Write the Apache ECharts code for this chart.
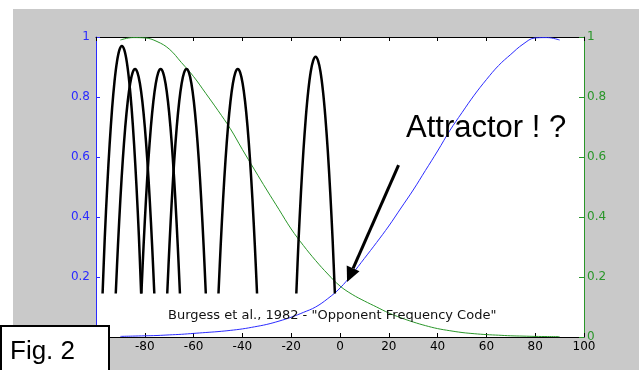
<!DOCTYPE html>
<html>
<head>
<meta charset="utf-8">
<script src="https://cdn.jsdelivr.net/npm/echarts@6/dist/echarts.min.js"></script>
<style>
  html, body { margin: 0; padding: 0; background: #fff; }
  #chart { width: 639px; height: 370px; }
</style>
</head>
<body>
<div id="chart"></div>
<script>
// sampled positions for the two wide curves
const xSamples = [-90, -85, -80, -75, -70, -65, -60, -55, -50, -45, -40, -35, -30, -25, -20, -15, -10, -5, 0,
  5, 10, 15, 20, 25, 30, 35, 40, 45, 50, 55, 60, 65, 70, 75, 80, 85, 90];
const blueValues = [0.002, 0.003, 0.004, 0.005, 0.007, 0.009, 0.012, 0.015, 0.018, 0.022, 0.027, 0.034, 0.042, 0.053, 0.066, 0.082, 0.1, 0.128, 0.163,
  0.21, 0.262, 0.315, 0.37, 0.43, 0.49, 0.555, 0.62, 0.688, 0.748, 0.806, 0.858, 0.905, 0.942, 0.976, 0.997, 0.998, 0.99];
const greenValues = [0.99, 0.998, 0.997, 0.985, 0.96, 0.915, 0.868, 0.812, 0.755, 0.695, 0.625, 0.557, 0.49, 0.425, 0.36, 0.305, 0.255, 0.21, 0.17,
  0.142, 0.12, 0.1, 0.08, 0.064, 0.05, 0.038, 0.028, 0.021, 0.015, 0.011, 0.008, 0.006, 0.004, 0.003, 0.002, 0.0015, 0.001];

// narrow tuning curves: centre + offsets
const peakCenters = [-89.4, -84, -73.5, -62.9, -41.9, -10];
const peakOffsets = [-7.9, -7, -6, -5, -4, -3, -2, -1, 0, 1, 2, 3, 4, 5, 6, 7, 7.9];
const peakTall = [0.145, 0.332, 0.501, 0.644, 0.762, 0.853, 0.918, 0.957, 0.97, 0.957, 0.918, 0.853, 0.762, 0.644, 0.501, 0.332, 0.145];
const peakMid = [0.145, 0.305, 0.461, 0.593, 0.701, 0.785, 0.845, 0.881, 0.893, 0.881, 0.845, 0.785, 0.701, 0.593, 0.461, 0.305, 0.145];
const peakLast = [0.145, 0.32, 0.482, 0.62, 0.733, 0.821, 0.884, 0.921, 0.934, 0.921, 0.884, 0.821, 0.733, 0.62, 0.482, 0.32, 0.145];
const peakValues = [peakTall, peakMid, peakMid, peakMid, peakMid, peakLast];

// arrow, in data units
const arrowTail = [24, 0.573];
const arrowTip = [2.9, 0.183];

const BLUE = '#2b2bff';
const GREEN = '#2a962a';
const tickFont = 'DejaVu Sans';

const chart = echarts.init(document.getElementById('chart'));

const peakSeries = peakValues.map((vals, i) => ({
  type: 'line',
  data: peakOffsets.map((d, j) => [peakCenters[i] + d, vals[j]]),
  showSymbol: false,
  smooth: 0.3,
  lineStyle: { color: '#000', width: 2.5 },
  z: 3
}));

chart.setOption({
  backgroundColor: '#c9c9c9',
  animation: false,
  grid: { left: 96, top: 37, right: 55, bottom: 33, show: true, backgroundColor: '#fff', borderWidth: 0 },
  xAxis: [
    {
      type: 'value', min: -100, max: 100, interval: 20, position: 'bottom',
      axisLine: { onZero: false, lineStyle: { color: '#000', width: 1 } },
      axisTick: { inside: true, length: 4, lineStyle: { color: '#000' } },
      axisLabel: {
        color: '#000', fontFamily: tickFont, fontSize: 12, margin: 4,
        formatter: v => (v === -100 ? '' : String(v))
      },
      splitLine: { show: false }
    },
    {
      type: 'value', min: -100, max: 100, interval: 20, position: 'top',
      axisLine: { onZero: false, lineStyle: { color: '#000', width: 1 } },
      axisTick: { inside: true, length: 4, lineStyle: { color: '#000' } },
      axisLabel: { show: false },
      splitLine: { show: false }
    }
  ],
  yAxis: [
    {
      type: 'value', min: 0, max: 1, interval: 0.2, position: 'left',
      axisLine: { show: true, onZero: false, lineStyle: { color: BLUE } },
      axisTick: { show: true, inside: true, length: 4, lineStyle: { color: BLUE } },
      axisLabel: { color: BLUE, fontFamily: tickFont, fontSize: 12, margin: 6 },
      splitLine: { show: false }
    },
    {
      type: 'value', min: 0, max: 1, interval: 0.2, position: 'right',
      axisLine: { show: true, onZero: false, lineStyle: { color: GREEN } },
      axisTick: { show: true, inside: true, length: 5, lineStyle: { color: GREEN } },
      axisLabel: { color: GREEN, fontFamily: tickFont, fontSize: 12, margin: 3 },
      splitLine: { show: false }
    }
  ],
  series: [
    {
      type: 'line', yAxisIndex: 0,
      data: xSamples.map((x, i) => [x, blueValues[i]]),
      showSymbol: false, smooth: 0.4,
      lineStyle: { color: BLUE, width: 1 }
    },
    {
      type: 'line', yAxisIndex: 1,
      data: xSamples.map((x, i) => [x, greenValues[i]]),
      showSymbol: false, smooth: 0.4,
      lineStyle: { color: GREEN, width: 1 }
    }
  ].concat(peakSeries)
});

// arrow and annotations are placed after the axes exist
const tail = chart.convertToPixel({ gridIndex: 0 }, arrowTail);
const tip = chart.convertToPixel({ gridIndex: 0 }, arrowTip);
const dx = tip[0] - tail[0], dy = tip[1] - tail[1];
const len = Math.sqrt(dx * dx + dy * dy);
const ux = dx / len, uy = dy / len;
const headLen = 15, headHalf = 7;
const base = [tip[0] - ux * headLen, tip[1] - uy * headLen];

chart.setOption({
  graphic: [
    { type: 'rect', id: 'padTop', shape: { x: 0, y: 0, width: 639, height: 9 }, style: { fill: '#fff' }, z: 0 },
    { type: 'rect', id: 'padLeft', shape: { x: 0, y: 0, width: 13, height: 370 }, style: { fill: '#fff' }, z: 0 },
    {
      type: 'line', id: 'arrowShaft', z: 50,
      shape: { x1: tail[0], y1: tail[1], x2: base[0], y2: base[1] },
      style: { stroke: '#000', lineWidth: 3 }
    },
    {
      type: 'polygon', id: 'arrowHead', z: 50,
      shape: { points: [tip, [base[0] - uy * headHalf, base[1] + ux * headHalf], [base[0] + uy * headHalf, base[1] - ux * headHalf]] },
      style: { fill: '#000' }
    },
    {
      type: 'text', id: 'attractor', z: 50,
      style: {
        text: 'Attractor ! ?', x: 406, y: 128, fill: '#000',
        font: '31px "Liberation Sans", Arial, sans-serif',
        textAlign: 'left', align: 'left', textVerticalAlign: 'middle', verticalAlign: 'middle'
      }
    },
    {
      type: 'text', id: 'burgess', z: 50,
      style: {
        text: 'Burgess et al., 1982 - "Opponent Frequency Code"', x: 168, y: 316, fill: '#111',
        font: '13px "DejaVu Sans", sans-serif',
        textAlign: 'left', align: 'left', textVerticalAlign: 'middle', verticalAlign: 'middle'
      }
    },
    {
      type: 'rect', id: 'figBox', z: 60,
      shape: { x: 1, y: 326, width: 108, height: 50 },
      style: { fill: '#fff', stroke: '#000', lineWidth: 2 }
    },
    {
      type: 'text', id: 'figLabel', z: 61,
      style: {
        text: 'Fig. 2', x: 10, y: 352, fill: '#000',
        font: '26px "Liberation Sans", Arial, sans-serif',
        textAlign: 'left', align: 'left', textVerticalAlign: 'middle', verticalAlign: 'middle'
      }
    }
  ]
});
</script>
</body>
</html>
